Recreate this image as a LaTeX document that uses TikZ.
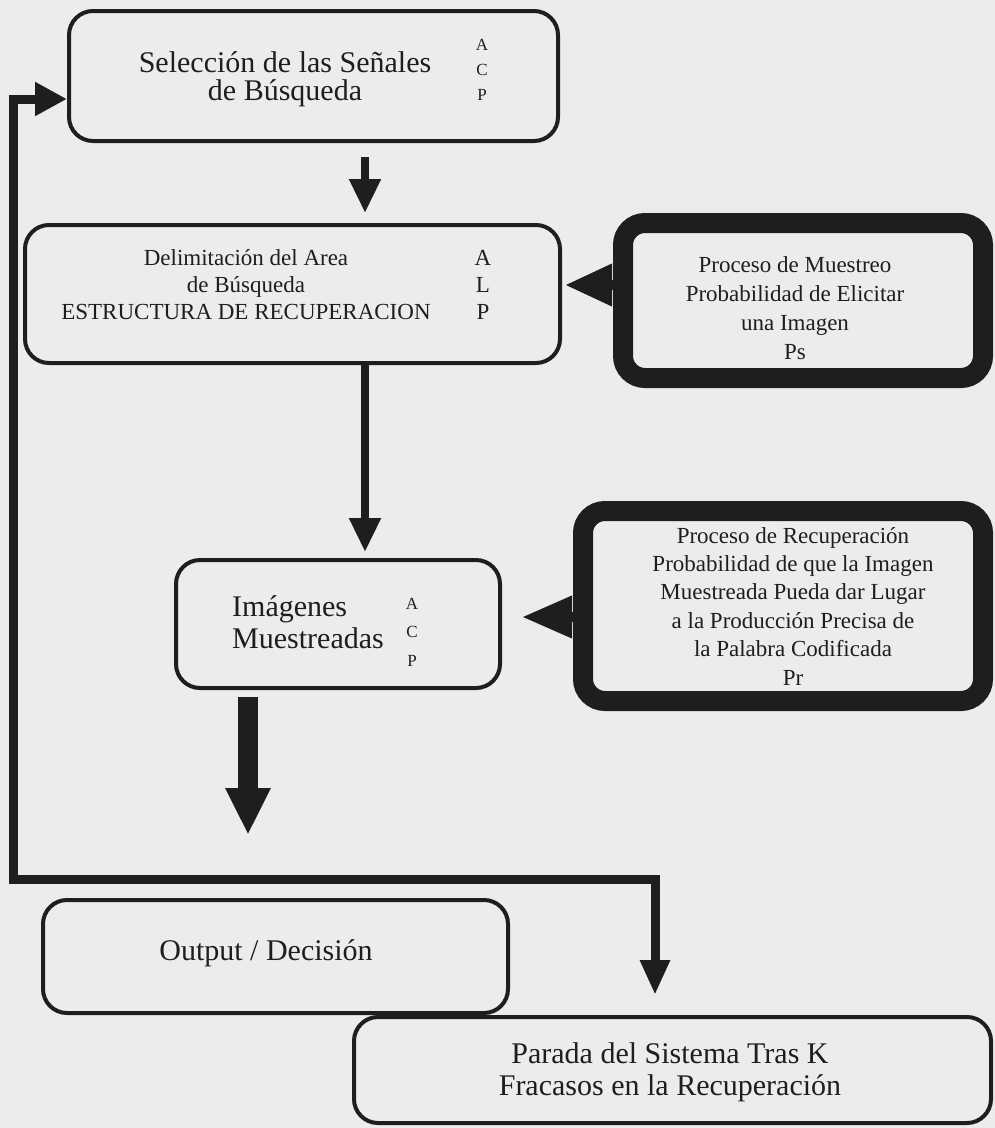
\documentclass[tikz,border=0pt]{standalone}
\usepackage{fontspec}
\setmainfont{Liberation Serif}
\usetikzlibrary{arrows.meta,calc}
\definecolor{ink}{HTML}{1E1E1E}
\definecolor{paper}{HTML}{ECECEC}
\begin{document}
\begin{tikzpicture}[x=1pt,y=-1pt,
  box/.style={draw=ink, line width=4pt, rounded corners=24pt, rectangle, inner sep=0pt},
  heavybox/.style={draw=ink, line width=20pt, rounded corners=22pt, rectangle, inner sep=0pt},
  lbl/.style={text=ink, align=center, inner sep=0pt},
  flow/.style={draw=ink, line width=8pt, -{Triangle[length=34pt,width=30pt]}},
  feed/.style={draw=ink, line width=9pt, line join=miter}]
% paper
\fill[paper] (0,0) rectangle (995,1128);
\useasboundingbox (0,0) rectangle (995,1128);

% boxes
\node[box, minimum width=489pt, minimum height=130pt] (sel) at (313.5,76) {};
\node[box, minimum width=535pt, minimum height=138pt] (del) at (292.5,294) {};
\node[heavybox, minimum width=360pt, minimum height=155pt] (mue) at (803,300.5) {};
\node[heavybox, minimum width=400pt, minimum height=190pt] (rec) at (783,606) {};
\node[box, minimum width=324pt, minimum height=128pt] (img) at (338,624) {};
\node[box, minimum width=465pt, minimum height=113pt] (out) at (275.5,956.5) {};
\node[box, minimum width=637pt, minimum height=106pt] (par) at (672.5,1070) {};

% guide coordinates for connectors
\coordinate (colA) at (365,0);
\coordinate (rowM) at (0,285);
\coordinate (rowR) at (0,617);
\coordinate (rowS) at (0,99);
\coordinate (jL) at (13,879);
\coordinate (jR) at (655,879);
\coordinate (bigtip) at (248,835);

% connectors
\draw[flow, shorten <=14pt, shorten >=10pt] (sel.south -| colA) -- (del.north -| colA);
\draw[flow, shorten >=6pt] (del.south -| colA) -- (img.north -| colA);
\draw[draw=ink, line width=10pt, -{Triangle[length=47pt,width=40pt]}, shorten >=3pt]
  (mue.west |- rowM) -- (del.east |- rowM);
\draw[draw=ink, line width=10pt, -{Triangle[length=50pt,width=40pt]}, shorten >=20pt]
  (rec.west |- rowR) -- (img.east |- rowR);
\draw[draw=ink, line width=20pt, -{Triangle[length=47pt,width=42pt]}, shorten <=7pt]
  (img.south -| bigtip) -- (bigtip);
\draw[feed, -{Triangle[length=32pt,width=32pt]}]
  (jR) -- (jL) -- (jL |- rowS) -- (sel.west |- rowS);
\draw[feed, -{Triangle[length=35pt,width=28pt]}, shorten >=20pt]
  (jL) -- (jR) -- (jR |- par.north);

% texts
\node[lbl, font=\fontsize{30}{28}\selectfont] (selT) at (285,79) {Selección de las Señales\\de Búsqueda};
\node[lbl, font=\fontsize{17}{25}\selectfont] (selK) at (482,70) {A\\C\\P};
\node[lbl, font=\fontsize{23}{27}\selectfont] (delT) at (246,285)
  {Delimitación del Area\\de Búsqueda\\ESTRUCTURA DE RECUPERACION};
\node[lbl, font=\fontsize{23}{27}\selectfont] (delK) at (483,285) {A\\L\\P};
\node[lbl, font=\fontsize{23}{29}\selectfont] (mueT) at (795,308)
  {Proceso de Muestreo\\Probabilidad de Elicitar\\una Imagen\\Ps};
\node[lbl, font=\fontsize{23}{28.4}\selectfont] (recT) at (793,606)
  {Proceso de Recuperación\\Probabilidad de que la Imagen\\Muestreada Pueda dar Lugar\\a la Producción Precisa de\\la Palabra Codificada\\Pr};
\node[lbl, align=left, anchor=west, font=\fontsize{30}{32}\selectfont] (imgT) at (232,622) {Imágenes\\Muestreadas};
\node[lbl, font=\fontsize{17}{28.5}\selectfont] (imgK) at (412,632) {A\\C\\P};
\node[lbl, font=\fontsize{30}{32}\selectfont] (outT) at (266,953) {Output / Decisión};
\node[lbl, font=\fontsize{30}{32}\selectfont] (parT) at (670,1072) {Parada del Sistema Tras K\\Fracasos en la Recuperación};
\end{tikzpicture}
\end{document}
